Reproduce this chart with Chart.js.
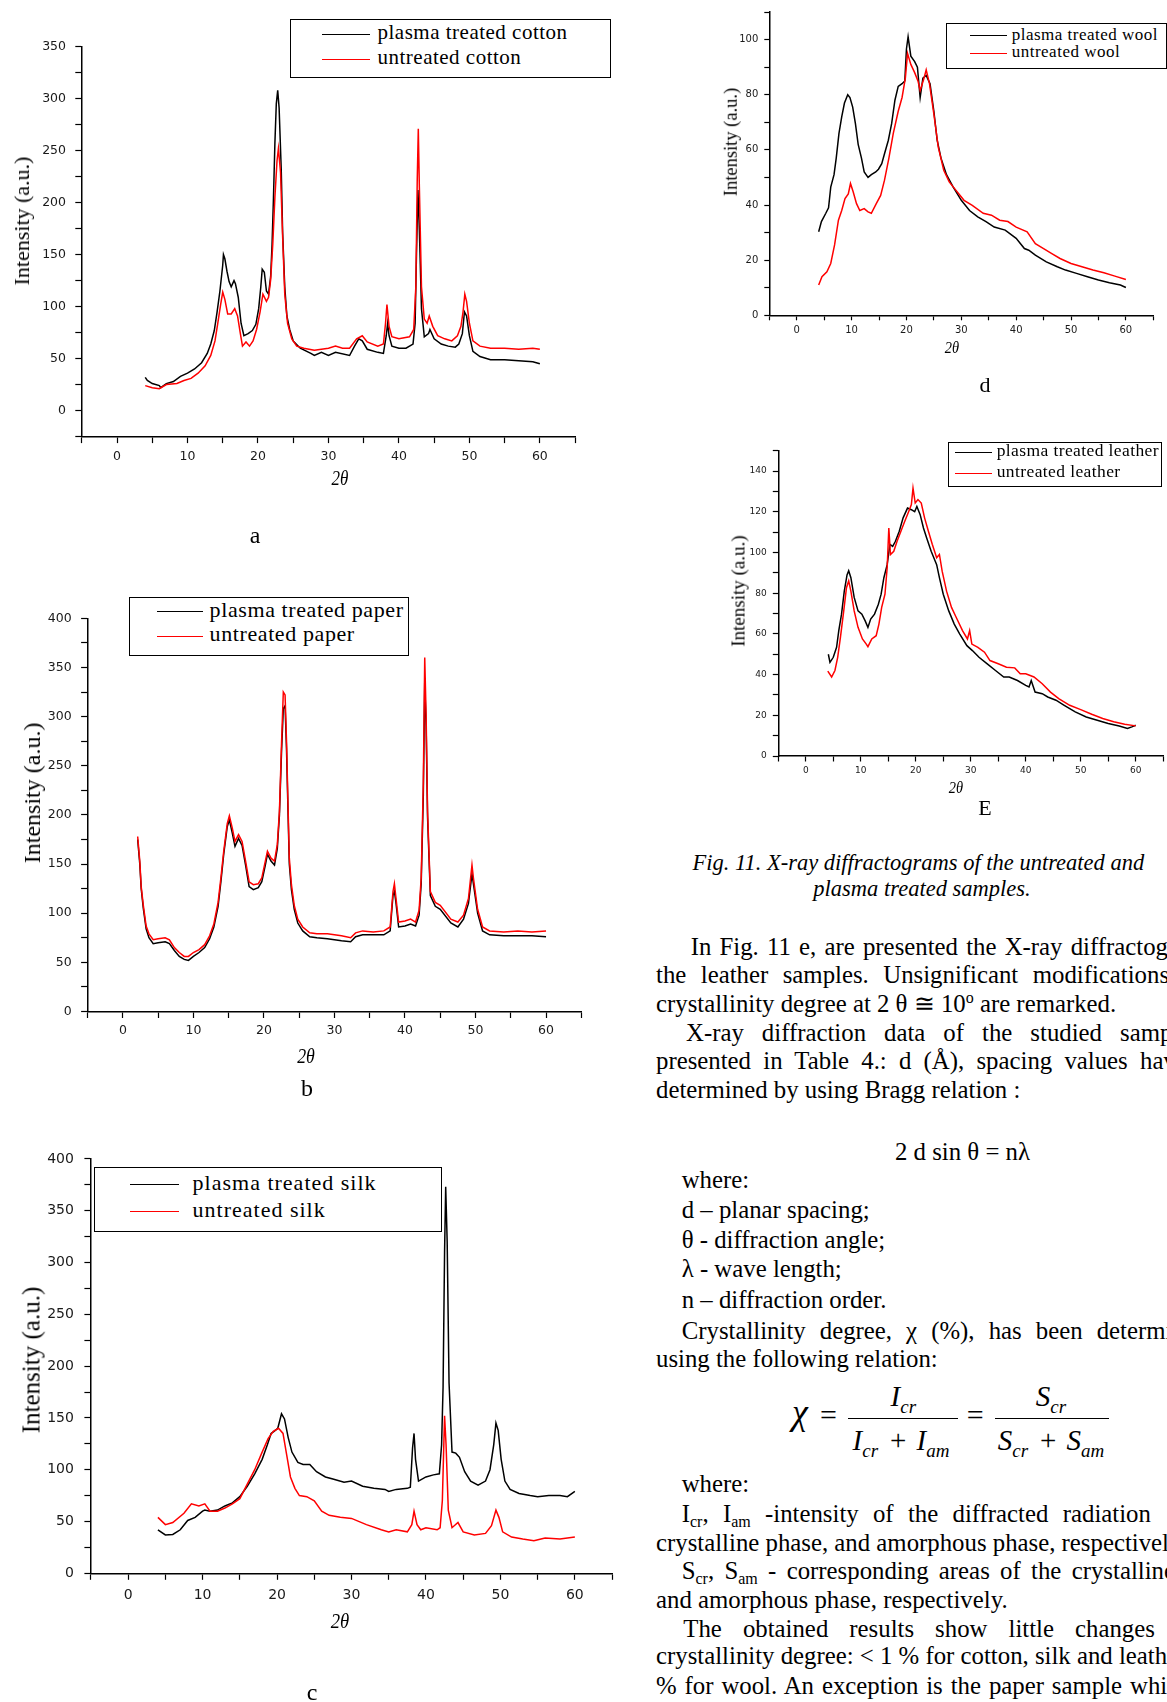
<!DOCTYPE html>
<html>
<head>
<meta charset="utf-8">
<title>Fig. 11 - X-ray diffractograms</title>
<script src="https://cdn.jsdelivr.net/npm/chart.js@4.4.1/dist/chart.umd.min.js"></script>
<style>
    html, body { margin: 0; padding: 0; background: #fff; }
    body {
        position: relative; width: 1167px; height: 1702px; overflow: hidden;
        font-family: "Liberation Serif", "Times New Roman", serif; color: #000;
    }
    canvas { position: absolute; }
    .abs { position: absolute; white-space: nowrap; }
    .legend-box { position: absolute; box-sizing: border-box; border: 1.5px solid #000; background: #fff; }
    .swatch { position: absolute; height: 0; border-top: 1.5px solid #000; }
    .ytitle { position: absolute; white-space: nowrap; line-height: 1; transform: translate(-50%, -50%) rotate(-90deg); }
    .xtitle { position: absolute; white-space: nowrap; line-height: 1; font-style: italic; transform: translate(-50%, -50%) scaleX(0.85); }
    .panel-cap { position: absolute; line-height: 1; transform: translate(-50%, -50%); }
    .txt { position: absolute; white-space: nowrap; font-size: 24.8px; line-height: 28px; }
    .cap { position: absolute; white-space: nowrap; font-size: 22.5px; line-height: 28px; font-style: italic; transform: translateX(-50%); }
    .sb { position: relative; top: 5px; font-size: 16px; }
    .sp { position: relative; top: -9px; font-size: 16px; }
    .eq { position: absolute; white-space: nowrap; transform: translateX(-50%); font-style: italic; font-size: 29px; line-height: 29px; }
    .eq .s { position: relative; top: 7px; font-size: 19px; }
    .eq .op { font-style: normal; margin: 0 10px 0 12px; }
    .bar { position: absolute; height: 1.4px; background: #000; }
</style>
</head>
<body>

<script>
// ---------- values (2θ in degrees, intensity in a.u.) ----------

// a - cotton
const cottonTreatedX = [4.0, 4.3, 5, 6, 6.2, 7, 8, 9, 10, 11, 12, 12.8, 13.3, 13.8, 14.2, 14.6, 15.0, 15.1, 15.3, 15.6,
    15.9, 16.2, 16.6, 16.8, 17.2, 17.6, 18.0, 18.6, 19.2, 19.7, 20.1, 20.4, 20.6, 20.9, 21.2, 21.5, 21.8, 22.0, 22.2, 22.4,
    22.6, 22.8, 23.0, 23.3, 23.5, 23.8, 24.1, 24.5, 25, 26, 27.5, 28, 29, 30, 31, 33, 33.7, 34.3, 34.8, 35.5,
    37, 37.8, 38.2, 38.4, 38.6, 39, 40, 41, 42, 42.3, 42.5, 42.7, 42.9, 43.2, 43.6, 44.2, 44.4, 45, 46, 47,
    48, 48.5, 49, 49.3, 49.6, 50, 50.5, 51.5, 53, 55, 57, 59, 60];
const cottonTreatedY = [32, 29, 26, 24, 22, 26, 28, 33, 36, 40, 46, 55, 64, 77, 95, 115, 140, 150, 146, 134,
    124, 119, 125, 122, 109, 84, 72, 74, 77, 83, 98, 119, 136, 133, 115, 112, 129, 160, 205, 257,
    295, 308, 291, 232, 171, 119, 91, 78, 67, 60, 55, 53, 56, 53, 56, 53, 62, 69, 67, 59,
    56, 55, 72, 84, 72, 62, 60, 60, 64, 84, 153, 212, 174, 98, 71, 74, 78, 69, 64, 62,
    61, 64, 74, 95, 91, 72, 57, 52, 49, 49, 48, 47, 45];
const cottonUntreatedX = [4, 5, 6, 7, 8.5, 9.5, 10.5, 11.5, 12.5, 13.3, 13.9, 14.3, 14.7, 15.0, 15.3, 15.7, 16.2, 16.7, 17.1, 17.5,
    17.8, 18.3, 18.8, 19.3, 19.8, 20.3, 20.7, 21.2, 21.5, 21.8, 22.1, 22.4, 22.7, 22.9, 23.2, 23.5, 23.8, 24.2, 24.8, 25.5,
    26.5, 28, 30, 31, 32, 33, 34, 34.8, 35.5, 37, 37.8, 38.1, 38.3, 38.6, 39, 40, 41.5, 42.1, 42.4, 42.6,
    42.75, 42.9, 43.2, 43.6, 44, 44.3, 44.8, 45.5, 46.5, 47.5, 48.3, 48.8, 49.1, 49.35, 49.6, 50, 50.5, 51.5, 53, 55,
    57, 59, 60];
const cottonUntreatedY = [24, 22, 21, 25, 26, 29, 31, 36, 43, 53, 67, 84, 102, 114, 107, 93, 93, 98, 91, 74,
    62, 66, 62, 67, 78, 95, 112, 105, 109, 126, 160, 205, 240, 252, 229, 167, 112, 84, 69, 62,
    60, 58, 60, 62, 60, 60, 69, 72, 66, 62, 64, 84, 102, 81, 71, 69, 71, 78, 119, 222,
    271, 215, 119, 88, 84, 91, 81, 72, 69, 67, 72, 81, 95, 112, 105, 84, 67, 62, 60, 60,
    59, 60, 59];

// b - paper (both curves read at the same angles)
const paperX = [2.1, 2.4, 2.6, 2.9, 3.3, 3.7, 4.3, 5, 6, 6.6, 7.3, 8, 8.7, 9.3, 10, 10.8, 11.6, 12.3, 12.9, 13.5,
    13.9, 14.3, 14.8, 15.1, 15.5, 15.9, 16.4, 16.9, 17.4, 17.9, 18.5, 19.2, 19.7, 20.2, 20.5, 21, 21.5, 21.9, 22.2, 22.5,
    22.75, 23.0, 23.2, 23.4, 23.6, 23.9, 24.3, 24.8, 25.5, 26.5, 27.5, 29, 30, 31, 32.3, 33, 34, 35.5, 37, 37.9,
    38.3, 38.5, 38.7, 39.1, 40, 40.8, 41.5, 42, 42.3, 42.6, 42.8, 43.0, 43.2, 43.6, 44.3, 45, 46.5, 47.5, 48.3, 49,
    49.5, 49.7, 50.3, 51, 52, 54, 56, 58, 60];
const paperTreatedY = [175, 150, 125, 105, 84, 75, 69, 70, 71, 69, 62, 56, 53, 52, 56, 60, 65, 74, 86, 107,
    132, 160, 188, 195, 182, 168, 176, 169, 149, 127, 124, 126, 132, 149, 160, 153, 149, 166, 200, 265,
    308, 311, 268, 208, 150, 124, 104, 90, 82, 76, 75, 74, 73, 72, 71, 76, 78, 78, 78, 82,
    118, 122, 112, 86, 87, 89, 87, 98, 130, 220, 335, 290, 198, 118, 107, 104, 90, 86, 94, 110,
    140, 130, 100, 82, 78, 77, 77, 77, 76];
const paperUntreatedY = [178, 153, 127, 108, 87, 79, 73, 74, 75, 73, 65, 60, 56, 56, 60, 63, 68, 77, 89, 111,
    136, 163, 191, 199, 187, 173, 180, 173, 153, 132, 129, 130, 136, 153, 163, 156, 153, 170, 204, 273,
    325, 322, 276, 215, 156, 129, 108, 94, 86, 80, 79, 79, 78, 77, 75, 80, 82, 81, 82, 86,
    122, 130, 117, 91, 92, 94, 91, 103, 136, 232, 360, 300, 204, 122, 111, 108, 94, 91, 98, 115,
    149, 136, 104, 86, 82, 81, 82, 81, 82];

// c - silk
const silkTreatedX = [4.0, 5, 6, 7, 8, 9, 10, 10.3, 11, 12, 13, 14, 15, 16, 17, 18, 18.7, 19.2, 19.6, 20.1,
    20.6, 21.0, 21.5, 22, 22.8, 23.5, 24.4, 25.3, 26.5, 27.5, 29, 30, 31.5, 33, 34.5, 35, 36, 37.5, 37.9, 38.2,
    38.4, 38.6, 39, 40, 41, 41.8, 42.1, 42.3, 42.5, 42.65, 42.85, 43.1, 43.5, 44, 44.5, 45.2, 46, 47, 48, 48.6,
    49.1, 49.4, 49.7, 50.1, 50.6, 51.3, 52.5, 54, 55, 56.5, 58, 59, 60];
const silkTreatedY = [42, 37, 37.5, 42, 51, 54, 60, 61, 60, 61, 65, 68, 74, 84, 96, 110, 124, 135, 137, 140,
    154, 149, 131, 117, 107, 105, 105, 98, 93, 91, 88, 89, 84, 82, 81, 79, 81, 82, 83, 121,
    135, 110, 89, 93, 95, 96, 124, 180, 310, 373, 320, 184, 117, 116, 112, 98, 89, 85, 89, 100,
    124, 145, 138, 110, 89, 81, 77, 75, 74, 75, 75, 74, 79];
const silkUntreatedX = [4.0, 5, 6, 7.5, 8.5, 9.5, 10.3, 11, 12, 13, 14, 15, 16, 17, 18, 18.8, 19.5, 20.2, 20.8, 21.3,
    21.8, 22.4, 23, 24, 25, 26, 27, 28.5, 30, 32, 34, 35, 36, 37.5, 38.1, 38.4, 38.8, 39.3, 40, 41.5,
    41.9, 42.2, 42.5, 42.7, 43.0, 43.5, 44.3, 45, 46.5, 48, 48.8, 49.4, 49.8, 50.3, 51.5, 53, 54.5, 56, 58, 60];
const silkUntreatedY = [54, 47, 49, 58, 67, 65, 67, 60, 60, 63, 67, 72, 86, 100, 117, 130, 137, 140, 135, 114,
    93, 82, 75, 74, 70, 60, 56, 54, 53, 47, 42, 40, 42, 40, 47, 60, 47, 42, 44, 42,
    44, 70, 152, 124, 61, 44, 49, 40, 37, 38.5, 46, 61, 54, 40, 35, 33, 31.5, 34, 33, 35];

// d - wool
const woolTreatedX = [4.0, 4.5, 5.3, 5.8, 6.2, 6.8, 7.2, 7.7, 8.2, 8.7, 9.3, 9.7, 10.2, 10.7, 11.2, 11.8, 12.3, 13, 13.6, 14.4,
    14.9, 15.5, 16.0, 16.7, 17.3, 17.9, 18.5, 19.2, 19.7, 20.0, 20.3, 20.8, 21.5, 22.0, 22.5, 23.0, 23.6, 24.3, 25.0, 25.6,
    26.3, 27.3, 28.5, 30, 31.5, 33, 34.5, 36, 38, 40, 41.5, 42.3, 43.5, 45.5, 47.5, 49, 51, 53, 55, 57, 59, 60];
const woolTreatedY = [30.3, 34, 37, 39, 46.5, 51, 57, 66, 72, 77, 80, 79, 75.5, 69.5, 62, 57, 52, 50, 51, 52,
    53, 55, 58.6, 63.5, 69.5, 78, 83, 84, 85, 96.6, 101, 94, 92, 90, 79, 86, 87, 84, 74, 63.5,
    57, 51, 46.6, 41.7, 38, 35.7, 34, 32, 30.9, 27.9, 24.2, 23.6, 21.8, 19.4, 17.6, 16.4, 15.2, 14, 12.8, 11.8, 11, 10.1];
const woolUntreatedX = [4.0, 4.6, 5.5, 6.2, 6.9, 7.6, 8.2, 8.8, 9.4, 9.8, 10.3, 10.9, 11.5, 12.3, 13, 13.6, 14.5, 15.3, 16, 16.8,
    17.6, 18.5, 19.2, 19.8, 20.2, 20.8, 21.5, 22.1, 22.5, 23.2, 23.6, 24.2, 25.0, 25.8, 26.8, 27.8, 29, 30.5, 32, 34,
    35.5, 37, 38.5, 40, 42, 43.5, 45, 46.5, 48, 50, 52, 54, 56, 58, 60];
const woolUntreatedY = [11, 14, 15.8, 18.8, 25.5, 34.5, 38, 42.3, 44, 47.8, 44.7, 40.5, 38, 38.7, 37.5, 37, 40.5, 43.5, 49, 57,
    66, 74, 79, 86, 95, 91, 88, 85, 81.5, 86, 89, 84, 73, 61, 52.6, 48.4, 45.4, 41.7, 39.9, 37,
    36.3, 34.5, 34, 32, 30.3, 26, 24.2, 22.4, 20.6, 18.8, 17.6, 16.4, 15.4, 14.2, 13];

// E - leather
const leatherTreatedX = [4.1, 4.4, 5, 5.6, 6.0, 6.5, 7.0, 7.5, 7.8, 8.2, 8.8, 9.5, 10.2, 10.8, 11.3, 11.8, 12.5, 13.2, 13.7, 14.2,
    14.8, 15.3, 15.8, 16.3, 17.0, 17.7, 18.5, 19.2, 19.8, 20.2, 20.8, 21.4, 22.0, 22.8, 23.8, 24.3, 25, 26, 27, 28,
    29.3, 30.3, 31.5, 33, 34.5, 36, 37, 38.5, 40, 40.6, 41, 41.7, 43, 44, 45.5, 47, 49, 51, 53, 55,
    57, 58.5, 59.3, 60];
const leatherTreatedY = [50, 46, 48.5, 53.4, 61.6, 69.7, 81, 89, 91, 87.6, 77.9, 71.3, 69.7, 66.4, 63.2, 67.3, 69.7, 74.6, 79.5, 87.6,
    94, 104, 103, 105.5, 110.4, 117, 121.8, 121, 120, 122.6, 118.6, 112, 107, 100.6, 94, 87.6, 79.5, 71.3, 64.8, 59.9,
    54.2, 51.8, 48.5, 45.3, 42, 38.8, 38.8, 37.1, 34.7, 33.9, 37.1, 31.4, 30.6, 29, 27.4, 24.9, 21.7, 19.2, 17.6, 16,
    14.7, 13.5, 14.3, 15.1];
const leatherUntreatedX = [4.0, 4.7, 5.3, 5.8, 6.3, 6.9, 7.4, 7.8, 8.2, 8.8, 9.5, 10.3, 11.0, 11.3, 12.0, 12.8, 13.3, 13.8, 14.4, 14.8,
    15.1, 15.4, 16.0, 16.6, 17.3, 18.0, 18.7, 19.2, 19.5, 19.9, 20.4, 21.0, 21.6, 22.3, 23.0, 23.8, 24.3, 24.8, 25.6, 26.5,
    27.3, 28.5, 29.4, 29.8, 30.2, 31.3, 32.5, 33.5, 35, 36.5, 38, 39, 40, 41.5, 43, 44.5, 46, 48, 50, 52,
    54, 56, 58, 60];
const leatherUntreatedY = [41.7, 38.8, 42, 48.5, 58.3, 71.3, 82.7, 86, 81, 71.3, 63.2, 57.5, 55, 53.7, 57.5, 59.1, 64.8, 73, 79.5, 92.5,
    112, 99, 100.6, 105.5, 110.4, 115.3, 120, 123.5, 131.6, 124.3, 126, 124.3, 117, 110.4, 104, 97.4, 99, 90.8, 81, 73,
    68.4, 61.6, 57.5, 61.6, 55, 53.4, 51, 46.9, 45.3, 43.6, 43.3, 40.4, 40.4, 38.8, 35.5, 31.4, 28.2, 24.9, 22.8, 20.5,
    18.4, 16.8, 15.6, 14.8];

// axis ranges (all panels share the 2θ axis)
const twoThetaAxis = { min: -5, max: 65, minor: 5, major: 10 };
const cottonAxis = { min: -25, max: 350, minor: 25, major: 50 };
const paperAxis = { min: 0, max: 400, minor: 25, major: 50 };
const silkAxis = { min: 0, max: 400, minor: 25, major: 50 };
const woolAxis = { min: 0, max: 110, minor: 10, major: 20 };
const leatherAxis = { min: 0, max: 150, minor: 10, major: 20 };

const BLACK = '#000000';
const RED = '#ff0000';

// ---------- panel layout (page pixels) ----------
const panels = [
    {   // a
        box: { l: 0, t: 0, w: 600, h: 500 }, plot: { l: 81.8, r: 575.1, t: 46.6, b: 436.6 },
        yAxis: cottonAxis, tickFont: 12.5, tick: 6.5, yPad: 9.3, xPad: 5.7,
        series: [
            { label: 'plasma treated cotton', xs: cottonTreatedX, ys: cottonTreatedY, color: BLACK },
            { label: 'untreated cotton', xs: cottonUntreatedX, ys: cottonUntreatedY, color: RED }
        ],
        legend: { l: 289.7, t: 18.6, r: 610.7, b: 78.1, lineL: 322, lineR: 369.6, textL: 377.5, rows: [35, 60], font: 21, ls: 0.5 },
        yTitle: { x: 23.7, y: 220.5, size: 22 }, xTitle: { x: 340, y: 477.6, size: 20 },
        caption: { text: 'a', x: 255, y: 537, size: 24 }
    },
    {   // b
        box: { l: 0, t: 590, w: 610, h: 480 }, plot: { l: 87.6, r: 581.3, t: 618.3, b: 1011.5 },
        yAxis: paperAxis, tickFont: 12.5, tick: 6.5, yPad: 9.5, xPad: 5.3,
        series: [
            { label: 'plasma treated paper', xs: paperX, ys: paperTreatedY, color: BLACK },
            { label: 'untreated paper', xs: paperX, ys: paperUntreatedY, color: RED }
        ],
        legend: { l: 128.9, t: 597, r: 409.2, b: 656.3, lineL: 156.8, lineR: 202.7, textL: 209.6, rows: [612.2, 636.6], font: 22, ls: 0.6 },
        yTitle: { x: 34.4, y: 792.7, size: 24 }, xTitle: { x: 306, y: 1056.3, size: 21 },
        caption: { text: 'b', x: 307, y: 1090, size: 24 }
    },
    {   // c
        box: { l: 0, t: 1140, w: 640, h: 500 }, plot: { l: 90.9, r: 612.1, t: 1156.6, b: 1573.3 },
        yAxis: silkAxis, tickFont: 14, tick: 6.5, yPad: 10.5, xPad: 7.1,
        series: [
            { label: 'plasma treated silk', xs: silkTreatedX, ys: silkTreatedY, color: BLACK },
            { label: 'untreated silk', xs: silkUntreatedX, ys: silkUntreatedY, color: RED }
        ],
        legend: { l: 93.7, t: 1166.5, r: 442, b: 1232.2, lineL: 129.7, lineR: 179, textL: 192.6, rows: [1184.7, 1212], font: 22, ls: 1 },
        yTitle: { x: 33.6, y: 1359.8, size: 25 }, xTitle: { x: 340, y: 1620.7, size: 22 },
        caption: { text: 'c', x: 312, y: 1693.7, size: 24 }
    },
    {   // d
        box: { l: 700, t: 0, w: 467, h: 360 }, plot: { l: 769.3, r: 1153.3, t: 11.7, b: 315.3 },
        yAxis: woolAxis, tickFont: 10, tick: 5, yPad: 6, xPad: 3.7,
        series: [
            { label: 'plasma treated wool', xs: woolTreatedX, ys: woolTreatedY, color: BLACK },
            { label: 'untreated wool', xs: woolUntreatedX, ys: woolUntreatedY, color: RED }
        ],
        legend: { l: 946, t: 22.7, r: 1166.5, b: 69.3, lineL: 970, lineR: 1006.7, textL: 1011.7, rows: [36, 53.3], font: 17, ls: 0.5 },
        yTitle: { x: 733.3, y: 141.7, size: 18.5 }, xTitle: { x: 951.7, y: 346.7, size: 17 },
        caption: { text: 'd', x: 985, y: 387, size: 22 }
    },
    {   // E
        box: { l: 700, t: 430, w: 467, h: 360 }, plot: { l: 778.3, r: 1165, t: 450.7, b: 756 },
        yAxis: leatherAxis, tickFont: 9, tick: 5.5, yPad: 6.1, xPad: 3.8,
        series: [
            { label: 'plasma treated leather', xs: leatherTreatedX, ys: leatherTreatedY, color: BLACK },
            { label: 'untreated leather', xs: leatherUntreatedX, ys: leatherUntreatedY, color: RED }
        ],
        legend: { l: 948.3, t: 441.7, r: 1162.3, b: 487.3, lineL: 955, lineR: 991.7, textL: 996.7, rows: [452.7, 473.3], font: 17.5, ls: 0.4 },
        yTitle: { x: 740, y: 591.3, size: 19 }, xTitle: { x: 955.7, y: 787.3, size: 17 },
        caption: { text: 'E', x: 985, y: 810, size: 22 }
    }
];

// ---------- right column text ----------
// x = left edge, y = visual centre of the line, last = where the last word should start (justified lines)
const bodyLines = [
    { x: 690.7, y: 950, html: 'In Fig. 11 e, are presented the X-ray <span class="lw">diffractograms</span>', last: 1070.7 },
    { x: 656, y: 978.3, html: 'the leather samples. Unsignificant <span class="lw">modifications</span>', last: 1032.7 },
    { x: 656, y: 1006.7, html: 'crystallinity degree at 2 θ ≅ 10<span class="sp">o</span> are remarked.' },
    { x: 686, y: 1036, html: 'X-ray diffraction data of the studied <span class="lw">samples</span>', last: 1120 },
    { x: 656, y: 1064.3, html: 'presented in Table 4.: d (Å), spacing values <span class="lw">have</span>', last: 1140 },
    { x: 656, y: 1093.3, html: 'determined by using Bragg relation :' },
    { x: 895, y: 1155, html: '2 d sin θ = nλ' },
    { x: 681.7, y: 1183.3, html: 'where:' },
    { x: 681.7, y: 1213.3, html: 'd – planar spacing;' },
    { x: 681.7, y: 1243.3, html: 'θ - diffraction angle;' },
    { x: 681.7, y: 1271.7, html: 'λ - wave length;' },
    { x: 681.7, y: 1303.3, html: 'n – diffraction order.' },
    { x: 681.7, y: 1333.5, html: 'Crystallinity degree, χ (%), has been <span class="lw">determined</span>', last: 1096.7 },
    { x: 656, y: 1361.7, html: 'using the following relation:' },
    { x: 681.7, y: 1487, html: 'where:' },
    { x: 681.7, y: 1516.7, html: 'I<span class="sb">cr</span>, I<span class="sb">am</span> -intensity of the diffracted <span class="lw">radiation</span>', last: 1062.7 },
    { x: 656, y: 1545.5, html: 'crystalline phase, and amorphous phase, respectively' },
    { x: 681.7, y: 1574, html: 'S<span class="sb">cr</span>, S<span class="sb">am</span> - corresponding areas of the <span class="lw">crystalline</span>', last: 1071.7 },
    { x: 656, y: 1602.5, html: 'and amorphous phase, respectively.' },
    { x: 683.3, y: 1631.7, html: 'The obtained results show little <span class="lw">changes</span>', last: 1075 },
    { x: 656, y: 1659, html: 'crystallinity degree: &lt; 1 % for cotton, silk and leather' },
    { x: 656, y: 1688.7, html: '% for wool. An exception is the paper sample <span class="lw">which</span>', last: 1130 }
];

function addEl(cls, html, styles) {
    const el = document.createElement('div');
    el.className = cls;
    el.innerHTML = html;
    Object.assign(el.style, styles);
    document.body.appendChild(el);
    return el;
}

function px(v) { return v + 'px'; }

function makeAxis(axis, p, horizontal) {
    const plotSize = horizontal ? (p.box.t + p.box.h - p.plot.b) : (p.plot.l - p.box.l);
    return {
        type: 'linear',
        min: axis.min,
        max: axis.max,
        afterFit: function(scale) {
            if (horizontal) scale.height = plotSize; else scale.width = plotSize;
        },
        border: { display: true, color: '#000', width: 1.5 },
        grid: { display: true, drawOnChartArea: false, drawTicks: true, tickLength: p.tick, tickColor: '#000', tickWidth: 1.2 },
        ticks: {
            stepSize: axis.minor,
            autoSkip: false,
            maxRotation: 0,
            minRotation: 0,
            padding: horizontal ? p.xPad : p.yPad,
            color: '#1a1a1a',
            font: { family: 'DejaVu Sans', size: p.tickFont },
            callback: function(v) {
                const r = Math.round(v);
                return r % axis.major === 0 ? String(r) : '';
            }
        }
    };
}

function buildPanel(p) {
    const cv = document.createElement('canvas');
    cv.width = p.box.w;
    cv.height = p.box.h;
    cv.style.left = px(p.box.l);
    cv.style.top = px(p.box.t);
    document.body.appendChild(cv);

    new Chart(cv.getContext('2d'), {
        type: 'line',
        data: {
            datasets: p.series.map((s, i) => ({
                label: s.label,
                data: s.xs.map((x, k) => ({ x: x, y: s.ys[k] })),
                borderColor: s.color,
                borderWidth: 1.5,
                pointRadius: 0,
                fill: false,
                tension: 0,
                order: p.series.length - 1 - i   // red drawn on top
            }))
        },
        options: {
            responsive: false,
            animation: false,
            devicePixelRatio: 1,
            layout: {
                padding: { top: p.plot.t - p.box.t, right: p.box.l + p.box.w - p.plot.r, left: 0, bottom: 0 }
            },
            plugins: { legend: { display: false }, tooltip: { enabled: false } },
            scales: {
                x: makeAxis(twoThetaAxis, p, true),
                y: makeAxis(p.yAxis, p, false)
            }
        }
    });

    // legend box
    const lg = p.legend;
    addEl('legend-box', '', { left: px(lg.l), top: px(lg.t), width: px(lg.r - lg.l), height: px(lg.b - lg.t) });
    p.series.forEach((s, i) => {
        addEl('swatch', '', { left: px(lg.lineL), top: px(lg.rows[i] - 0.75), width: px(lg.lineR - lg.lineL), borderTopColor: s.color });
        addEl('abs', s.label, {
            left: px(lg.textL), top: px(lg.rows[i] - 0.6 * lg.font),
            fontSize: px(lg.font), lineHeight: px(lg.font), letterSpacing: px(lg.ls)
        });
    });

    // axis titles and panel letter
    addEl('ytitle', 'Intensity (a.u.)', { left: px(p.yTitle.x - 0.1 * p.yTitle.size), top: px(p.yTitle.y), fontSize: px(p.yTitle.size) });
    addEl('xtitle', '2θ', { left: px(p.xTitle.x), top: px(p.xTitle.y), fontSize: px(p.xTitle.size) });
    addEl('panel-cap', p.caption.text, { left: px(p.caption.x), top: px(p.caption.y - 0.08 * p.caption.size), fontSize: px(p.caption.size) });
}

function buildText() {
    addEl('cap', 'Fig. 11. X-ray diffractograms of the untreated and', { left: px(918.3), top: px(866 - 16.6) });
    addEl('cap', 'plasma treated samples.', { left: px(922), top: px(892 - 16.6) });

    bodyLines.forEach(line => {
        const el = addEl('txt', line.html, { left: px(line.x), top: px(line.y - 16.9) });
        const lw = el.querySelector('.lw');
        if (lw && line.last) {
            // spread the spaces so the last word lands where it is in the figure
            const natural = lw.getBoundingClientRect().left;
            const txt = el.textContent;
            const before = txt.slice(0, txt.lastIndexOf(lw.textContent));
            const gaps = (before.match(/ /g) || []).length;
            if (gaps > 0) el.style.wordSpacing = px((line.last - natural) / gaps);
        }
    });

    // χ = Icr / (Icr + Iam) = Scr / (Scr + Sam)
    addEl('abs', 'χ', { left: px(792), top: px(1394), fontSize: '36px', lineHeight: '36px', fontStyle: 'italic' });
    addEl('abs', '=', { left: px(820), top: px(1400.4), fontSize: '30px', lineHeight: '30px' });
    addEl('bar', '', { left: px(848.3), top: px(1417.6), width: px(110) });
    addEl('eq', 'I<span class="s">cr</span>', { left: px(903.3), top: px(1406.7 - 24.3) });
    addEl('eq', 'I<span class="s">cr</span><span class="op">+</span>I<span class="s">am</span>', { left: px(901), top: px(1450 - 24.3) });
    addEl('abs', '=', { left: px(966.7), top: px(1400.4), fontSize: '30px', lineHeight: '30px' });
    addEl('bar', '', { left: px(995), top: px(1417.6), width: px(114.3) });
    addEl('eq', 'S<span class="s">cr</span>', { left: px(1051), top: px(1406.7 - 24.3) });
    addEl('eq', 'S<span class="s">cr</span><span class="op">+</span>S<span class="s">am</span>', { left: px(1051), top: px(1450 - 24.3) });
}

document.addEventListener('DOMContentLoaded', function() {
    panels.forEach(buildPanel);
    buildText();
});
</script>
</body>
</html>
